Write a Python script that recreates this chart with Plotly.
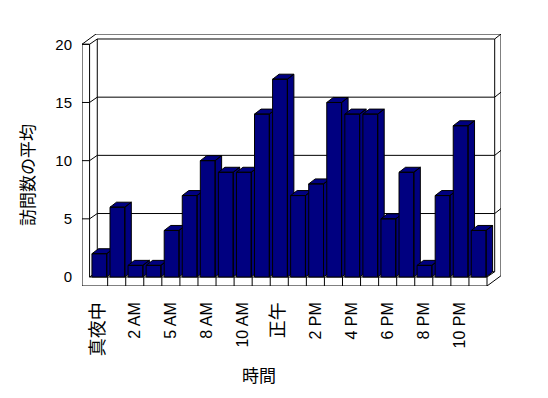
import plotly.graph_objects as go

# ---------------- data ----------------
categories = ["真夜中", "1 AM", "2 AM", "3 AM", "5 AM", "7 AM", "8 AM", "9 AM",
              "10 AM", "11 AM", "正午", "1 PM", "2 PM", "3 PM", "4 PM", "5 PM",
              "6 PM", "7 PM", "8 PM", "9 PM", "10 PM", "11 PM"]
visits = [2, 6, 1, 1, 4, 7, 10, 9, 9, 14, 17, 7, 8, 15, 14, 14, 5, 9, 1, 7, 13, 4]
y_ticks = [0, 5, 10, 15, 20]
x_title = "時間"
y_title = "訪問数の平均"

# ---------------- geometry (data units) ----------------
N = len(categories)
TOP = y_ticks[-1]
WT, FT = 0.42, 0.773          # wall / floor thickness
DX, DY = 0.426, 0.455         # depth offset to back wall inner face
DX2, DY2 = 0.775, 0.884       # depth offset to back wall outer face
BL, BW = 0.13, 0.82           # bar left offset and width inside a category
BDX, BDY = 0.36, 0.43         # bar depth offset

CJK_FONT = "Noto Sans CJK JP"
LAT_FONT = "Liberation Sans, Arial, Noto Sans CJK JP"
BAR_COLOR = "#000080"

fig = go.Figure()

# ---------------- frame (walls, floor, grid) ----------------
shapes = []


def poly(pts):
    for (x0, y0), (x1, y1) in zip(pts[:-1], pts[1:]):
        shapes.append(dict(type="line", xref="x", yref="y", x0=x0, y0=y0, x1=x1, y1=y1,
                           line=dict(color="black", width=1), layer="below"))


poly([(-WT, -FT), (-WT, TOP), (0, TOP), (0, 0)])
poly([(-WT, -FT), (N, -FT), (N, 0), (0, 0)])
poly([(-WT, TOP), (-WT + DX2, TOP + DY2), (N + DX2, TOP + DY2), (N + DX2, -FT + DY2), (N, -FT)])
poly([(DX, TOP + DY), (DX, DY), (N + DX, DY), (N + DX, TOP + DY)])
poly([(0, 0), (DX, DY)])
poly([(N, 0), (N + DX, DY)])
for v in y_ticks[1:]:
    poly([(-WT, v), (0, v), (DX, v + DY), (N + DX, v + DY), (N + DX2, v + DY2)])
for k in range(1, N):
    poly([(k, -FT), (k, 0)])

# ---------------- 3D bars ----------------
for i, v in enumerate(visits):
    L = i + BL
    R = L + BW
    front = [(L, 0), (R, 0), (R, v), (L, v), (L, 0)]
    side = [(R, 0), (R + BDX, BDY), (R + BDX, v + BDY), (R, v), (R, 0)]
    top = [(L, v), (R, v), (R + BDX, v + BDY), (L + BDX, v + BDY), (L, v)]
    xs, ys = [], []
    for face in (front, side, top):
        xs += [p[0] for p in face] + [None]
        ys += [p[1] for p in face] + [None]
    fig.add_trace(go.Scatter(x=xs, y=ys, mode="lines", fill="toself",
                             fillcolor=BAR_COLOR, line=dict(color="black", width=1),
                             name=categories[i], hoverinfo="skip", showlegend=False))


def tick_text(s):
    if any(ord(c) > 0x2E80 for c in s):
        return '<span style="font-size:18px">' + s + "</span>"
    return s


# the html body adds an 8px margin around the figure
OFF = 8
W_PX, H_PX = 548 - OFF, 398 - OFF
L_M, T_M = 82 - OFF, 34 - OFF
PW, PH = 419, 252
R_M, B_M = W_PX - L_M - PW, H_PX - T_M - PH

fig.update_layout(
    width=W_PX, height=H_PX,
    margin=dict(l=L_M, r=R_M, t=T_M, b=B_M, pad=0, autoexpand=False),
    paper_bgcolor="white", plot_bgcolor="white",
    shapes=shapes,
    showlegend=False,
    font=dict(family=LAT_FONT, size=15, color="black"),
    xaxis=dict(range=[-WT, N + DX2], showgrid=False, zeroline=False, showline=False,
               tickmode="array",
               tickvals=[i + 0.5 for i in range(0, N, 2)],
               ticktext=[tick_text(c) for c in categories[0::2]],
               tickangle=-90, ticks="", ticklabelstandoff=12, automargin=False,
               tickfont=dict(family=LAT_FONT, size=16, color="black"),
               fixedrange=True),
    yaxis=dict(range=[-FT, TOP + DY2], showgrid=False, zeroline=False, showline=False,
               tickmode="array", tickvals=y_ticks, ticktext=[str(t) for t in y_ticks],
               ticks="", ticklabelstandoff=9, automargin=False,
               tickfont=dict(family=LAT_FONT, size=15, color="black"),
               fixedrange=True),
    annotations=[
        dict(text=x_title, xref="paper", yref="paper",
             x=(259 - OFF - L_M) / PW, y=1 - (374 - OFF - T_M) / PH,
             xanchor="center", yanchor="middle", showarrow=False,
             font=dict(family=CJK_FONT, size=17, color="black")),
        dict(text=y_title, xref="paper", yref="paper",
             x=(26 - OFF - L_M) / PW, y=1 - (175 - OFF - T_M) / PH,
             xanchor="center", yanchor="middle", showarrow=False, textangle=-90,
             font=dict(family=CJK_FONT, size=17, color="black")),
    ],
)

fig.write_html("out.html")
